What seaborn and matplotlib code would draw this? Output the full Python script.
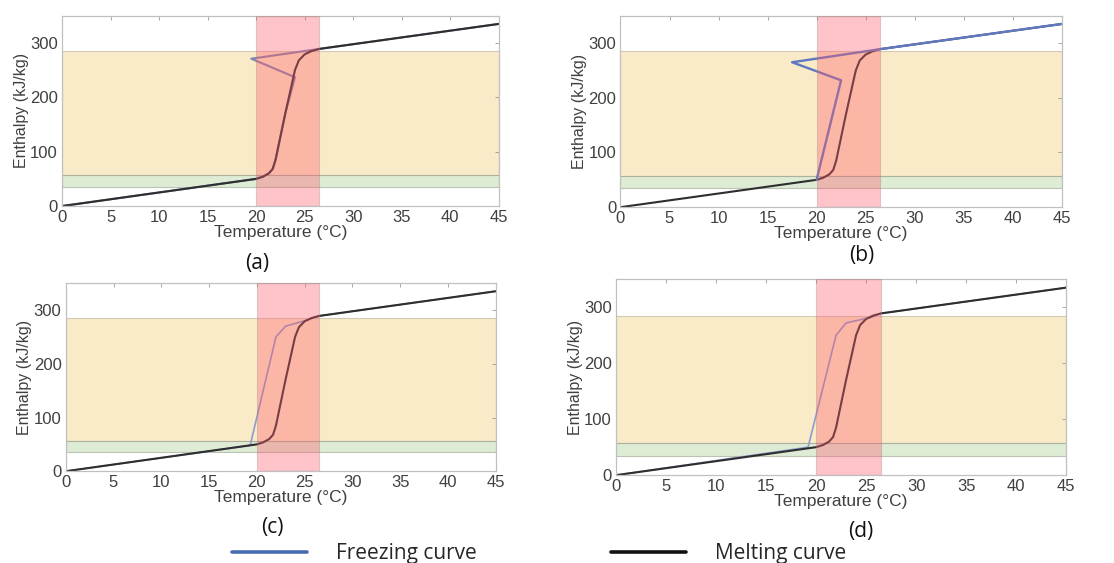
import matplotlib
matplotlib.use("Agg")
import matplotlib.pyplot as plt
from matplotlib.lines import Line2D
import seaborn as sns
import pandas as pd

# Melting curve (same in all four panels)
melt_temp = [0, 20, 20.7, 21.3, 21.7, 22, 23, 24, 24.4, 25, 25.7, 26.5, 45]
melt_enth = [0, 50, 54, 60, 68, 85, 170, 250, 268, 279, 285, 289, 335]

# Freezing curves, one per panel
freeze_temp_a = [45, 26.5, 19.5, 24, 23, 22, 21.7, 21.3, 20.7, 20, 0]
freeze_enth_a = [335, 289, 271, 237, 170, 85, 68, 60, 54, 50, 0]

freeze_temp_b = [45, 26.5, 17.5, 22.5, 20]
freeze_enth_b = [335, 289, 265, 232, 50]

freeze_temp_c = [0, 19.3, 22, 23, 25, 26.5, 45]
freeze_enth_c = [0, 48, 250, 270, 280, 289, 335]

freeze_temp_d = [0, 19.2, 22, 23, 25.5, 26.5, 45]
freeze_enth_d = [0, 50, 250, 272, 282, 289, 335]

panel_labels = ["(a)", "(b)", "(c)", "(d)"]
x_ticks = [0, 5, 10, 15, 20, 25, 30, 35, 40, 45]
y_ticks = [0, 100, 200, 300]

# Shaded ranges
melt_range = (20, 26.5)
latent_range = (57, 285)
sensible_range = (35, 57)

sns.set_theme(style="white")
plt.rcParams["font.family"] = ["Liberation Sans", "DejaVu Sans"]

MELT_COLOR = "#2e2e2e"
TEXT_COLOR = "#404040"

fig = plt.figure(figsize=(11.14, 5.63), dpi=100)
positions = [
    [0.0557, 0.634, 0.392, 0.338],
    [0.557, 0.632, 0.396, 0.340],
    [0.059, 0.163, 0.386, 0.334],
    [0.553, 0.156, 0.404, 0.348],
]
freeze_sets = [
    (freeze_temp_a, freeze_enth_a),
    (freeze_temp_b, freeze_enth_b),
    (freeze_temp_c, freeze_enth_c),
    (freeze_temp_d, freeze_enth_d),
]
freeze_styles = [
    dict(color="#7f86ad", lw=1.5, zorder=1),
    dict(color="#5f78c0", lw=1.7, zorder=3),
    dict(color="#8e9bcb", lw=1.2, zorder=1),
    dict(color="#8e9bcb", lw=1.2, zorder=1),
]
label_pos = [(257, 263), (862, 256), (272, 528), (861, 531)]

for pos, (ft, fh), style, lab, (lx, ly) in zip(positions, freeze_sets, freeze_styles,
                                              panel_labels, label_pos):
    ax = fig.add_axes(pos)
    ax.axhspan(*latent_range, facecolor="#f5d99c", alpha=0.55, edgecolor="#b0a890",
               lw=0.8, zorder=0.2)
    ax.axhspan(*sensible_range, facecolor="#c6deb4", alpha=0.55, edgecolor="#909a88",
               lw=0.8, zorder=0.3)

    melt_df = pd.DataFrame({"T": melt_temp, "H": melt_enth})
    freeze_df = pd.DataFrame({"T": ft, "H": fh})
    sns.lineplot(data=freeze_df, x="T", y="H", sort=False, estimator=None,
                 ax=ax, **style)
    sns.lineplot(data=melt_df, x="T", y="H", sort=False, estimator=None,
                 color=MELT_COLOR, lw=1.5, ax=ax, zorder=2)

    ax.axvspan(*melt_range, facecolor="#ff5a6c", alpha=0.36, edgecolor="#a08888",
               lw=0.8, zorder=5)

    ax.set_xlim(0, 45)
    ax.set_ylim(0, 350)
    ax.set_xticks(x_ticks)
    ax.set_yticks(y_ticks)
    ax.tick_params(direction="in", length=3, width=0.6, color="#999999",
                   top=True, right=True, labelsize=12, labelcolor=TEXT_COLOR, pad=3)
    for s in ax.spines.values():
        s.set_color("#c0c0c0")
        s.set_linewidth(0.9)
    ax.set_xlabel("Temperature (°C)", fontsize=12.5, color=TEXT_COLOR, labelpad=0)
    ax.set_ylabel("Enthalpy (kJ/kg)", fontsize=11.5, color=TEXT_COLOR, labelpad=1)

    fig.text(lx / 1114, 1 - ly / 563, lab, ha="center", va="center",
             fontsize=15, family=["Open Sans", "DejaVu Sans"], color="#111111")

handles = [Line2D([], [], color="#4a6cb5", lw=2.6),
           Line2D([], [], color="#111111", lw=2.6)]
fig.legend(handles, ["Freezing curve", "Melting curve"], ncol=2, frameon=False,
           loc="center", bbox_to_anchor=(0.484, 0.016), handlelength=3.6,
           handletextpad=1.4, columnspacing=6.45,
           prop={"family": "Open Sans", "size": 15})

fig.savefig("out.png", dpi=100)
